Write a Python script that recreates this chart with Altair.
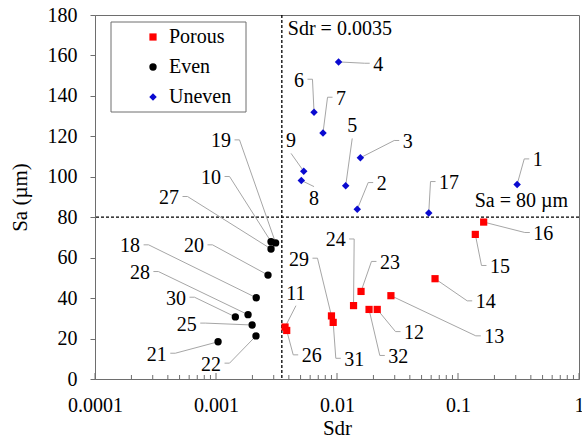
import altair as alt
import pandas as pd

# --- Surface texture measurements: Sdr (developed interfacial area ratio) vs Sa (um) ---
porous_id = [11, 12, 13, 14, 15, 16, 23, 24, 26, 29, 31, 32]
porous_sdr = [0.00372, 0.0215, 0.0279, 0.0646, 0.139, 0.163, 0.0158, 0.0137, 0.00384, 0.0090, 0.0093, 0.0184]
porous_sa = [25.7, 34.4, 41.2, 49.6, 71.5, 77.6, 43.3, 36.3, 24.0, 31.2, 28.0, 34.4]

even_id = [10, 18, 19, 20, 21, 22, 25, 27, 28, 30]
even_sdr = [0.00285, 0.00215, 0.00311, 0.00269, 0.00104, 0.00214, 0.00199, 0.00285, 0.00184, 0.001445]
even_sa = [67.9, 40.2, 67.3, 51.4, 18.4, 21.3, 26.7, 64.3, 31.8, 30.7]

uneven_id = [1, 2, 3, 4, 5, 6, 7, 8, 9, 17]
uneven_sdr = [0.308, 0.0147, 0.0156, 0.0103, 0.0118, 0.00646, 0.00766, 0.00507, 0.00531, 0.0573]
uneven_sa = [96.2, 83.9, 109.4, 156.8, 95.6, 131.9, 121.7, 98.2, 102.7, 82.1]

# Sample-number labels (1..32): where each number sits, and which side its leader leaves from
label_id = list(range(1, 33))
label_sdr = [0.456, 0.0234, 0.0384, 0.0219, 0.01336, 0.00485, 0.0108, 0.00646, 0.00417, 0.00091,
             0.00458, 0.0433, 0.1995, 0.1694, 0.2223, 0.507, 0.0843, 0.000195, 0.0011, 0.000658,
             0.000324, 0.00091, 0.0274, 0.00975, 0.000573, 0.00618, 0.000409, 0.000235, 0.00485,
             0.000467, 0.0139, 0.0321]
label_sa = [108.1, 96.4, 117.2, 155.4, 124.9, 147.5, 138.6, 89.2, 117.5, 99.4,
            42.2, 22.7, 20.6, 37.9, 55.4, 71.7, 96.9, 65.6, 117.5, 65.6,
            12.0, 7.1, 57.4, 68.5, 26.9, 11.2, 89.5, 52.4, 59.0, 39.7, 9.5, 10.9]
label_side = ["L", "L", "L", "L", "B", "R", "L", "T", "B", "R",
              "B", "L", "L", "L", "L", "L", "L", "R", "R", "R",
              "R", "R", "L", "R", "R", "L", "R", "R", "R", "R", "L", "L"]

groups = ["Porous", "Even", "Uneven"]
group_colors = ["#ff0000", "#000000", "#0a0ad0"]
group_shapes = ["square", "circle", "diamond"]
group_sizes = [52, 56, 64]

SDR_LIMIT = 0.0035
SA_LIMIT = 80

W, H = 484, 364
X_MIN, X_MAX = 0.0001, 1
Y_MIN, Y_MAX = 0, 180
PX_PER_DECADE = W / 4
PX_PER_UNIT = H / (Y_MAX - Y_MIN)

FONT = "Liberation Serif, DejaVu Serif, serif"
AXIS_GREY = "#6e6e6e"
LEADER_GREY = "#a6a6a6"

# --- tables ---
pts = pd.DataFrame({
    "id": porous_id + even_id + uneven_id,
    "sdr": porous_sdr + even_sdr + uneven_sdr,
    "sa": porous_sa + even_sa + uneven_sa,
    "group": ["Porous"] * len(porous_id) + ["Even"] * len(even_id) + ["Uneven"] * len(uneven_id),
})
lookup = {r.id: (r.sdr, r.sa) for r in pts.itertuples()}

labels = pd.DataFrame({"id": label_id, "sdr": label_sdr, "sa": label_sa, "side": label_side})
labels["text"] = labels["id"].astype(str)


def shift_x(x, px):
    return x * 10 ** (px / PX_PER_DECADE)


def shift_y(y, px_up):
    return y + px_up / PX_PER_UNIT


# leader lines: label edge -> short horizontal elbow -> marker
rows = []
for r in labels.itertuples():
    half = 5 * len(r.text) + 3.5
    if r.side == "L":
        sx, sy = shift_x(r.sdr, -half), shift_y(r.sa, 1.5)
        ex, ey = shift_x(sx, -5), sy
    elif r.side == "R":
        sx, sy = shift_x(r.sdr, half), shift_y(r.sa, 1.5)
        ex, ey = shift_x(sx, 5), sy
    elif r.side == "B":
        sx, sy = r.sdr, shift_y(r.sa, -12)
        ex, ey = sx, sy
    else:
        sx, sy = r.sdr, shift_y(r.sa, 12)
        ex, ey = sx, sy
    px, py = lookup[r.id]
    for k, (x, y) in enumerate([(sx, sy), (ex, ey), (px, py)]):
        rows.append({"lid": r.id, "seq": k, "sdr": x, "sa": y})
leaders = pd.DataFrame(rows)

major_ticks = [10.0 ** e for e in range(-4, 1)]
minor_ticks = [m * 10.0 ** e for e in range(-4, 0) for m in range(2, 10)]

# --- shared encodings ---
x_scale = alt.Scale(type="log", domain=[X_MIN, X_MAX], nice=False)
y_scale = alt.Scale(domain=[Y_MIN, Y_MAX], nice=False, zero=False)
x_axis = alt.Axis(values=major_ticks, format="~g", ticks=False, labelPadding=16,
                  labelFlush=False, labelOverlap=False, grid=False,
                  titleY=49, titleBaseline="middle")
y_axis = alt.Axis(values=list(range(0, 181, 20)), tickSize=5, labelPadding=13,
                  labelFlush=False, grid=False, titleAngle=270, titleX=-75, titleY=182,
                  titleAlign="center", titleBaseline="middle")


def X(field="sdr"):
    return alt.X(f"{field}:Q", scale=x_scale, axis=x_axis, title="Sdr")


def Y(field="sa"):
    return alt.Y(f"{field}:Q", scale=y_scale, axis=y_axis, title="Sa (µm)")


# --- layers ---
frame = alt.Chart(pd.DataFrame({"k": [0]})).mark_rect(
    fill="white", stroke=AXIS_GREY, strokeWidth=1
).encode(x=alt.value(16), x2=alt.value(151), y=alt.value(7), y2=alt.value(97))

vline = alt.Chart(pd.DataFrame({"sdr": [SDR_LIMIT]})).mark_rule(
    color="black", strokeDash=[3, 2], strokeWidth=1.3
).encode(x=X())

hline = alt.Chart(pd.DataFrame({"sa": [SA_LIMIT]})).mark_rule(
    color="black", strokeDash=[3, 2], strokeWidth=1.3
).encode(y=Y())

leader_lines = alt.Chart(leaders).mark_line(color=LEADER_GREY, strokeWidth=1).encode(
    x=X(), y=Y(), detail="lid:N", order="seq:O"
)

points = alt.Chart(pts).mark_point(filled=True, opacity=1, strokeWidth=0).encode(
    x=X(), y=Y(),
    color=alt.Color("group:N", scale=alt.Scale(domain=groups, range=group_colors),
                    legend=alt.Legend(title=None)),
    shape=alt.Shape("group:N", scale=alt.Scale(domain=groups, range=group_shapes),
                    legend=alt.Legend(title=None)),
    size=alt.Size("group:N", scale=alt.Scale(domain=groups, range=group_sizes), legend=None),
)

number_text = alt.Chart(labels).mark_text(
    font=FONT, fontSize=20, color="black", align="center", baseline="middle"
).encode(x=X(), y=Y(), text="text:N")

sdr_note = alt.Chart(pd.DataFrame({"sdr": [SDR_LIMIT], "sa": [Y_MAX], "t": ["Sdr = 0.0035"]})).mark_text(
    font=FONT, fontSize=20, color="black", align="left", baseline="middle", dx=6, dy=14
).encode(x=X(), y=Y(), text="t:N")

sa_note = alt.Chart(pd.DataFrame({"sdr": [X_MAX], "sa": [SA_LIMIT], "t": ["Sa = 80 µm"]})).mark_text(
    font=FONT, fontSize=20, color="black", align="right", baseline="middle", dx=-11, dy=-16
).encode(x=X(), y=Y(), text="t:N")

# x ticks point inward from the bottom axis
major_rules = alt.Chart(pd.DataFrame({"sdr": major_ticks})).mark_rule(
    color=AXIS_GREY, strokeWidth=1
).encode(x=X(), y=alt.value(H), y2=alt.value(H - 6))

minor_rules = alt.Chart(pd.DataFrame({"sdr": minor_ticks})).mark_rule(
    color=AXIS_GREY, strokeWidth=1
).encode(x=X(), y=alt.value(H), y2=alt.value(H - 4))

chart = alt.layer(
    frame, vline, hline, leader_lines, points, number_text, sdr_note, sa_note,
    major_rules, minor_rules
).properties(
    width=W, height=H,
    padding={"left": 95, "top": 15, "right": 3, "bottom": 66},
    autosize=alt.AutoSizeParams(type="none"),
    background="white",
).configure(
    font=FONT,
).configure_view(
    stroke=AXIS_GREY, strokeWidth=1
).configure_axis(
    domainColor=AXIS_GREY, tickColor=AXIS_GREY, domainWidth=1, tickWidth=1,
    labelFont=FONT, labelFontSize=20, labelColor="black",
    titleFont=FONT, titleFontSize=21, titleFontWeight="normal", titleColor="black",
).configure_legend(
    orient="none", legendX=48, legendY=12, padding=0, rowPadding=10,
    labelFont=FONT, labelFontSize=20, labelColor="black", labelOffset=6,
    symbolSize=52, symbolStrokeWidth=0,
)

chart.save("out.html", embed_options={"renderer": "svg", "actions": False})
